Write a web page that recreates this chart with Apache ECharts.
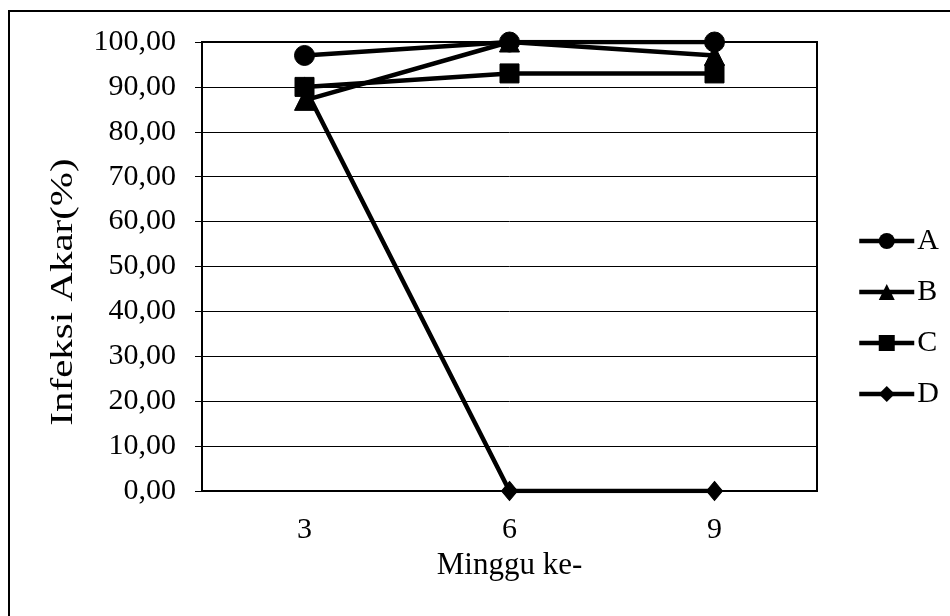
<!DOCTYPE html>
<html><head><meta charset="utf-8">
<script src="https://cdn.jsdelivr.net/npm/echarts@6/dist/echarts.min.js"></script>
<style>html,body{margin:0;padding:0;background:#fff}#c{width:950px;height:616px}</style>
</head><body><div id="c"></div>
<script>
var categories = ['3', '6', '9'];
var seriesA = [97, 100, 100];
var seriesB = [87, 100, 97];
var seriesC = [90, 93, 93];
var seriesD = [90, 0, 0];
var seriesNames = ['A', 'B', 'C', 'D'];
var yTicks = [0, 10, 20, 30, 40, 50, 60, 70, 80, 90, 100];
var yTitle = 'Infeksi Akar(%)';
var xTitle = 'Minggu ke-';

var font = 'Liberation Serif';
var chart = echarts.init(document.getElementById('c'), null, {renderer: 'canvas'});
function mk(name, data, symbol, size) {
  return {
    name: name, type: 'line', data: data, symbol: symbol, symbolSize: size,
    lineStyle: {color: '#000', width: 4.5}, itemStyle: {color: '#000', borderColor: '#000'},
    emphasis: {disabled: true}, animation: false, z: 3
  };
}
chart.setOption({
  animation: false,
  backgroundColor: '#fff',
  graphic: [
    {type: 'rect', shape: {x: 9, y: 11, width: 960, height: 620}, style: {fill: 'none', stroke: '#000', lineWidth: 2}, z: 0},
    {type: 'text', x: 64, y: 292, rotation: Math.PI / 2, scaleX: 1.28, scaleY: 1,
     style: {text: yTitle, font: '32px "Liberation Serif"', fill: '#000', align: 'center', verticalAlign: 'middle'}, z: 5}
  ],
  grid: {left: 202, right: 133, top: 42, bottom: 125, show: true, borderColor: '#000', borderWidth: 2, backgroundColor: 'transparent'},
  legend: {
    orient: 'vertical', left: 857, top: 226, padding: 0, itemGap: 21, itemWidth: 55, itemHeight: 20,
    data: seriesNames, textStyle: {fontFamily: font, fontSize: 30, color: '#000', padding: [0, 0, 0, -2]},
    lineStyle: {width: 4.5, color: '#000'},
    selectedMode: false
  },
  xAxis: {
    type: 'category', data: categories, boundaryGap: true,
    name: xTitle, nameLocation: 'middle', nameGap: 54,
    nameTextStyle: {fontFamily: font, fontSize: 31, color: '#000'},
    axisLine: {show: true, lineStyle: {color: '#000', width: 2}},
    axisTick: {show: false},
    axisLabel: {fontFamily: font, fontSize: 30, color: '#000', margin: 24}
  },
  yAxis: {
    type: 'value', min: 0, max: 100, interval: 10,
    axisLine: {show: true, lineStyle: {color: '#000', width: 2}},
    axisTick: {show: true, length: 7, inside: false, lineStyle: {color: '#000', width: 1}},
    splitLine: {show: true, lineStyle: {color: '#000', width: 1}},
    axisLabel: {fontFamily: font, fontSize: 30, color: '#000', margin: 26,
      formatter: function (v) { return yTicks.indexOf(v) >= 0 ? v.toFixed(2).replace('.', ',') : ''; }}
  },
  series: [
    mk('A', seriesA, 'circle', 20),
    mk('B', seriesB, 'triangle', 20),
    mk('C', seriesC, 'rect', 19),
    mk('D', seriesD, 'diamond', [16, 19])
  ]
});
</script></body></html>
